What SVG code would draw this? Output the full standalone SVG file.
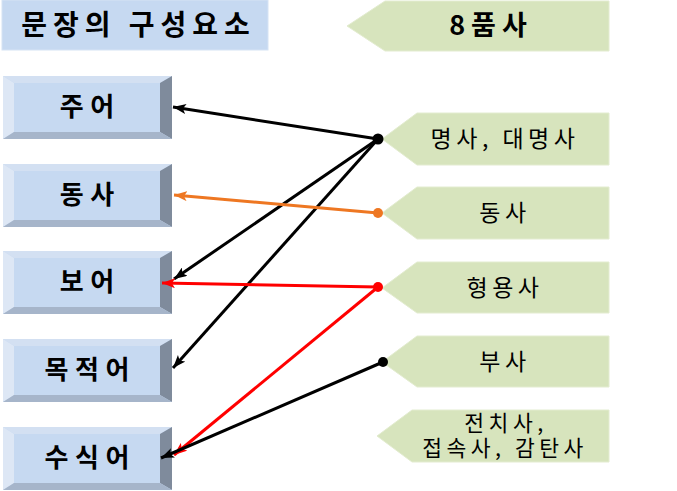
<svg xmlns="http://www.w3.org/2000/svg" width="677" height="491" viewBox="0 0 677 491">
<style>
text{font-family:"Noto Sans CJK KR","Noto Sans",sans-serif;fill:#000;text-anchor:middle}
.lbl{font-size:26px;font-weight:bold;letter-spacing:6.5px}
.pos{font-size:23px;letter-spacing:4.5px}
.pos2{font-size:21.5px;letter-spacing:4.5px}
.ttl{font-size:28px;font-weight:bold;letter-spacing:6px}
.tag{fill:#d7e4bd;stroke:#e3ecd0;stroke-width:1}
.ln{fill:none;stroke-width:3}
</style>
<defs>
<g id="bevel">
<rect x="3" y="0" width="169" height="63" fill="#c6d9f1"/>
<polygon points="3,0 172,0 160,7 14,7" fill="#d3e0f2"/>
<polygon points="3,0 14,7 14,56 3,63" fill="#dde7f5"/>
<polygon points="172,0 172,63 160,56 160,7" fill="#7f8b9c"/>
<polygon points="3,63 172,63 160,56 14,56" fill="#a6b5ca"/>
</g>
<marker id="ak" markerUnits="userSpaceOnUse" markerWidth="14" markerHeight="10" refX="13" refY="5" orient="auto"><path d="M0,0 L13,5 L0,10 L3,5 z" fill="#000"/></marker>
<marker id="ao" markerUnits="userSpaceOnUse" markerWidth="14" markerHeight="10" refX="13" refY="5" orient="auto"><path d="M0,0 L13,5 L0,10 L3,5 z" fill="#ee7722"/></marker>
<marker id="ar" markerUnits="userSpaceOnUse" markerWidth="14" markerHeight="10" refX="13" refY="5" orient="auto"><path d="M0,0 L13,5 L0,10 L3,5 z" fill="#ff0000"/></marker>
</defs>
<rect width="677" height="491" fill="#fff"/>
<g id="title">
<rect x="2" y="0" width="266" height="50" fill="#c6d9f1" stroke="#d6e3f4" stroke-width="1"/>
<text class="ttl" x="138.5" y="35">문장의 구성요소</text>
</g>
<g id="n-juo"><use href="#bevel" transform="translate(0,76)"/><text class="lbl" x="90.25" y="116">주어</text></g>
<g id="n-dongsa"><use href="#bevel" transform="translate(0,164)"/><text class="lbl" x="90.25" y="204">동사</text></g>
<g id="n-boeo"><use href="#bevel" transform="translate(0,251)"/><text class="lbl" x="90.25" y="291">보어</text></g>
<g id="n-mokjeogeo"><use href="#bevel" transform="translate(0,339)"/><text class="lbl" x="90.25" y="379">목적어</text></g>
<g id="n-susigeo"><use href="#bevel" transform="translate(0,427)"/><text class="lbl" x="90.25" y="467">수식어</text></g>
<g id="p-head"><path class="tag" d="M347,26 L385,1 L609,1 L609,51 L385,51 Z"/><text class="ttl" x="491" y="35" style="font-size:27px">8품사</text></g>
<g id="p-noun"><path class="tag" d="M382,139 L417,113 L609,113 L609,165 L417,165 Z"/><text class="pos" x="505" y="147">명사, 대명사</text></g>
<g id="p-verb"><path class="tag" d="M382,213 L417,187 L609,187 L609,239 L417,239 Z"/><text class="pos" x="505" y="221">동사</text></g>
<g id="p-adj"><path class="tag" d="M382,288 L417,262 L609,262 L609,313 L417,313 Z"/><text class="pos" x="505" y="296">형용사</text></g>
<g id="p-adv"><path class="tag" d="M382,362 L417,336 L609,336 L609,387 L417,387 Z"/><text class="pos" x="505" y="370">부사</text></g>
<g id="p-etc"><path class="tag" d="M377,436 L412,410 L609,410 L609,462 L412,462 Z"/><text class="pos2"><tspan x="506" y="431">전치사,</tspan><tspan x="505" y="456">접속사, 감탄사</tspan></text></g>
<g id="connectors">
<line class="ln" stroke="#000" x1="378" y1="139" x2="173" y2="107" marker-end="url(#ak)"/>
<line class="ln" stroke="#000" x1="378" y1="139" x2="174" y2="279" marker-end="url(#ak)"/>
<line class="ln" stroke="#000" x1="378" y1="139" x2="173" y2="368" marker-end="url(#ak)"/>
<line class="ln" stroke="#ee7722" x1="378" y1="213" x2="174" y2="195" marker-end="url(#ao)"/>
<line class="ln" stroke="#ff0000" x1="378" y1="287" x2="162" y2="283" marker-end="url(#ar)"/>
<line class="ln" stroke="#ff0000" x1="378" y1="287" x2="174" y2="455" marker-end="url(#ar)"/>
<line class="ln" stroke="#000" x1="383" y1="362" x2="161" y2="458" marker-end="url(#ak)"/>
<circle cx="378" cy="139" r="5.5" fill="#000"/>
<circle cx="378" cy="213" r="5" fill="#ee7722"/>
<circle cx="378" cy="287" r="5" fill="#ff0000"/>
<circle cx="383" cy="362" r="5" fill="#000"/>
</g>
</svg>
